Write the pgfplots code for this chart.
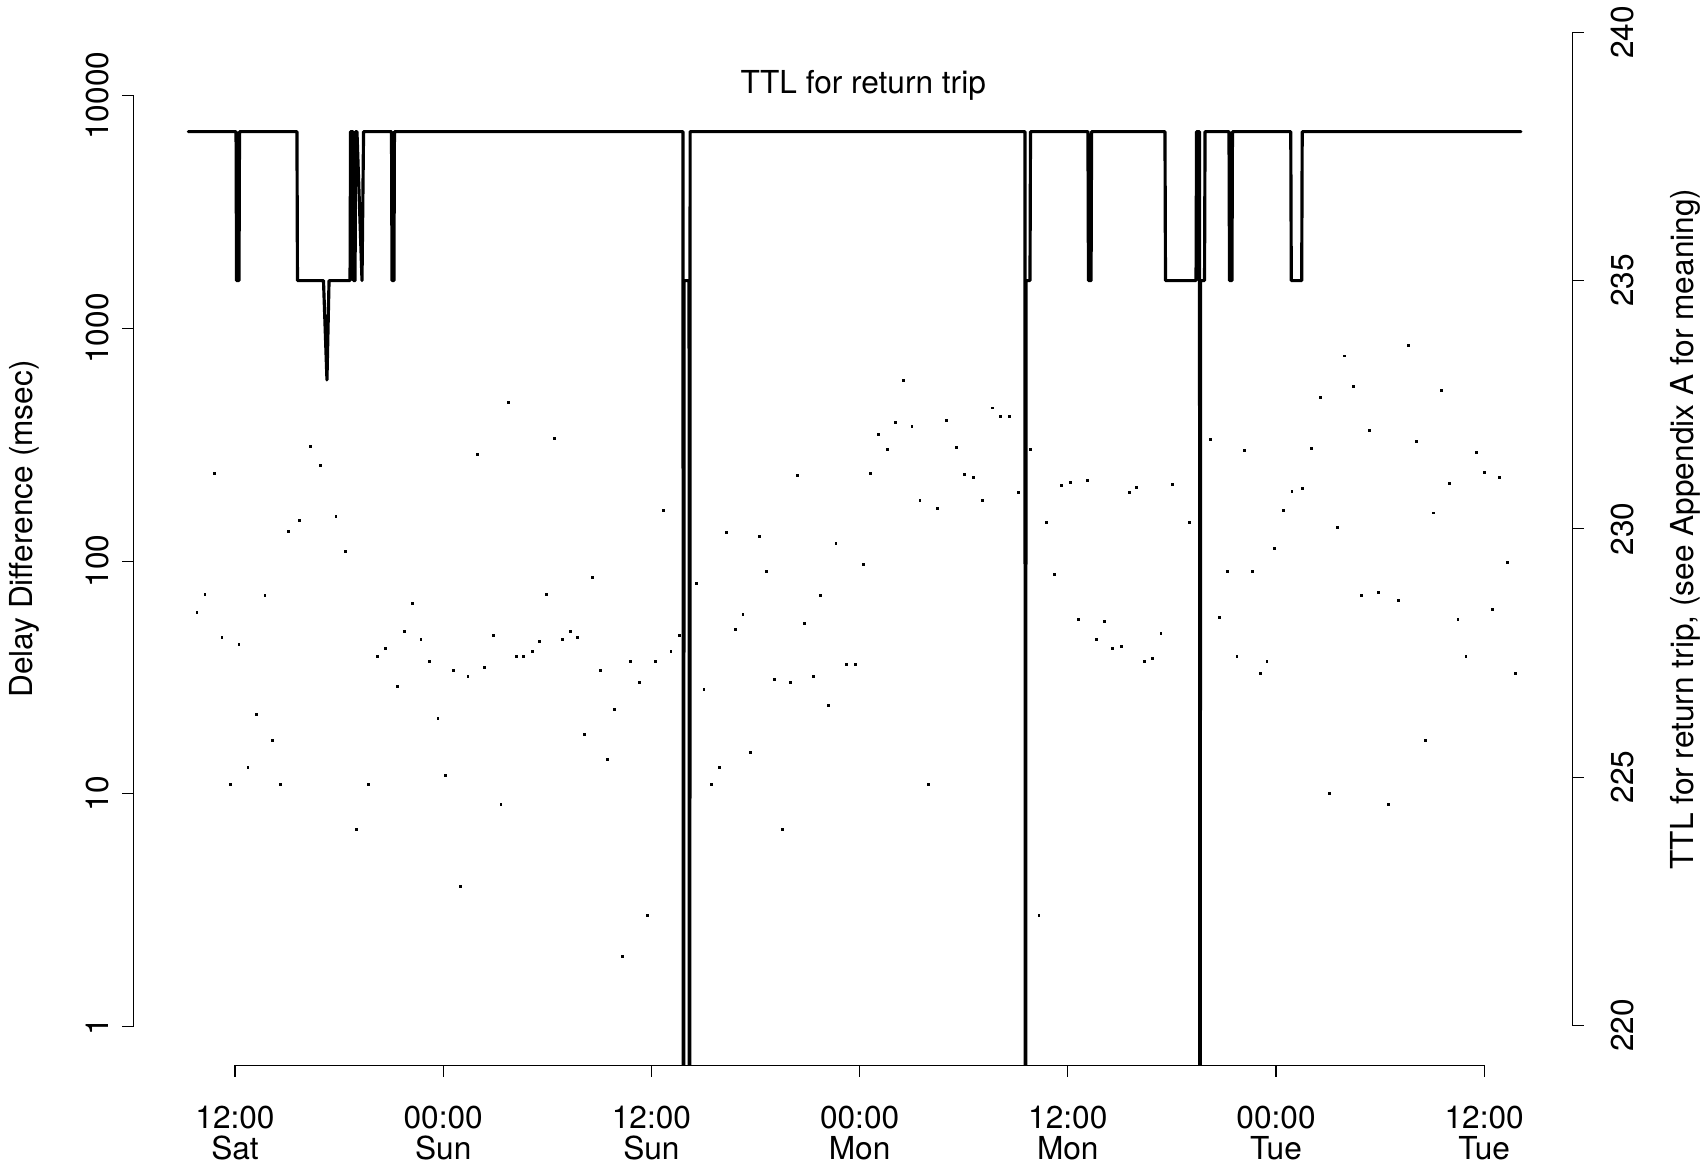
\documentclass[border=0pt]{standalone}
\usepackage{fontspec}
\setmainfont{TeX Gyre Heros}
\usepackage{pgfplots}
\usepackage{pgfplotstable}
\pgfplotsset{compat=1.18}

% TTL of the return trip, x = hours since Sat 00:00
\pgfplotstableread{
h ttl
9.31 238
12.06 238
12.09 235
12.23 235
12.26 238
15.57 238
15.60 235
17.10 235
17.30 233
17.42 235
18.63 235
18.66 238
18.80 238
18.83 235
18.92 235
18.95 238
19.03 238
19.32 235
19.41 238
21.02 238
21.05 235
21.16 235
21.19 238
37.82 238
37.85 200
37.88 235
38.17 235
38.20 200
38.23 238
57.53 238
57.56 200
57.59 235
57.82 235
57.85 238
61.16 238
61.19 235
61.34 235
61.37 238
65.60 238
65.63 235
67.39 235
67.42 238
67.59 238
67.62 200
67.65 235
67.88 235
67.91 238
69.29 238
69.32 235
69.46 235
69.49 238
72.85 238
72.88 235
73.48 235
73.51 238
86.11 238
}\ttldata

% delay differences (msec)
\pgfplotstableread{
h ms
27.79 481
30.44 335
16.36 310
25.95 287
16.94 257
10.81 237
17.82 155
15.71 150
15.07 134
18.38 110
32.59 85
10.27 72
29.98 72
13.73 71
22.24 66
9.81 60
21.78 50
31.31 50
26.91 48
11.25 47
31.75 47
30.87 46
22.72 46
29.56 45
12.23 44
20.69 42
29.14 41
20.23 39
28.21 39
28.64 39
23.22 37
34.82 37
24.57 34
33.04 34
26.39 35
25.43 32
21.34 29
33.90 23
13.25 22
23.70 21
32.17 18
14.15 17
33.48 14
12.75 13
24.14 12
11.75 11
14.63 11
19.67 11
27.33 9
18.99 7
25.01 4
34.36 2
50.52 596
55.65 455
56.13 417
56.65 417
50.08 396
53.02 403
51.02 378
49.08 351
53.56 307
49.58 301
57.86 302
38.17 298
44.43 234
48.62 237
54.06 236
54.59 228
59.65 211
60.17 217
57.17 198
51.48 183
52.48 169
55.10 183
36.67 165
58.78 146
40.34 133
42.22 128
46.64 119
48.20 97
59.22 88
42.65 90
38.61 80
45.76 71
41.28 59
44.84 54
40.86 51
60.63 56
37.63 48
37.13 41
36.21 37
35.33 30
47.27 36
47.78 36
43.08 31
44.01 30
45.35 32
39.03 28
46.20 24
41.72 15
39.90 13
39.48 11
51.98 11
43.55 7
35.79 3
58.34 3
79.61 846
75.96 761
76.46 562
81.55 542
74.59 504
77.40 363
68.24 334
70.21 298
74.06 305
80.11 328
83.53 292
84.01 241
84.89 229
82.01 216
61.16 223
63.53 198
63.97 208
66.06 213
72.92 200
73.50 206
72.44 165
81.09 161
67.00 146
75.52 140
71.93 113
85.35 99
69.22 90
70.62 90
76.94 71
77.92 73
79.07 68
84.47 62
62.13 55
68.76 57
82.49 56
65.37 49
61.68 46
62.59 42
63.07 43
64.89 38
69.75 39
82.95 39
64.41 37
71.48 37
71.08 33
85.82 33
80.61 17
75.06 10
78.50 9
}\delaydata

\newcommand{\fs}{\fontsize{9pt}{8.9pt}\selectfont}

\pgfplotsset{
  rbase/.style={
    at={(1.339cm,1.028cm)}, anchor=south west,
    scale only axis, width=14.384cm, height=10.726cm,
    xmin=6.173, xmax=89.078,
    axis line style={draw=none},
    tick align=outside,
    major tick length=0.115cm,
    tick style={black, line width=0.3pt},
    clip mode=individual,
    every tick label/.append style={font=\fs, inner sep=0pt},
  }
}

\begin{document}
\begin{tikzpicture}

\begin{axis}[rbase,
  ymode=log, ymin=0.6817, ymax=27744,
  yminorticks=false,
  tick pos=left,
  xtick={12,24,36,48,60,72,84},
  xticklabels={12:00\\Sat,00:00\\Sun,12:00\\Sun,00:00\\Mon,12:00\\Mon,00:00\\Tue,12:00\\Tue},
  xticklabel style={align=center, anchor=north, yshift=-0.283cm},
  ytick={1,10,100,1000,10000},
  yticklabels={1,10,100,1000,10000},
  yticklabel style={xshift=-0.13cm, rotate=90, anchor=south},
]
\addplot[only marks, mark=square*, mark size=0.22pt, black] table[x=h, y=ms] {\delaydata};
\draw[line width=0.3pt] (axis cs:12,0.6817) -- (axis cs:84,0.6817);
\draw[line width=0.3pt] (axis cs:6.173,1) -- (axis cs:6.173,10000);
\end{axis}

\begin{axis}[rbase,
  ymin=219.2, ymax=240.8,
  xtick=\empty,
  ytick pos=right, yticklabel pos=right,
  ytick={220,225,230,235,240},
  yticklabels={220,225,230,235,240},
  yticklabel style={xshift=0.265cm, rotate=90, anchor=north},
]
\addplot[black, line width=0.9pt, line cap=round, line join=round] table[x=h, y=ttl] {\ttldata};
\draw[line width=0.3pt] (axis cs:89.078,220) -- (axis cs:89.078,240);
\end{axis}

\node[font=\fs, anchor=base] at (8.633cm,10.75cm) {TTL for return trip};
\node[font=\fs, rotate=90] at (0.24cm,6.39cm) {Delay Difference (msec)};
\node[font=\fs, rotate=90] at (16.85cm,6.39cm) {TTL for return trip, (see Appendix A for meaning)};

\pgfresetboundingbox
\path (0,0) rectangle (17.07cm,11.68cm);
\end{tikzpicture}
\end{document}
